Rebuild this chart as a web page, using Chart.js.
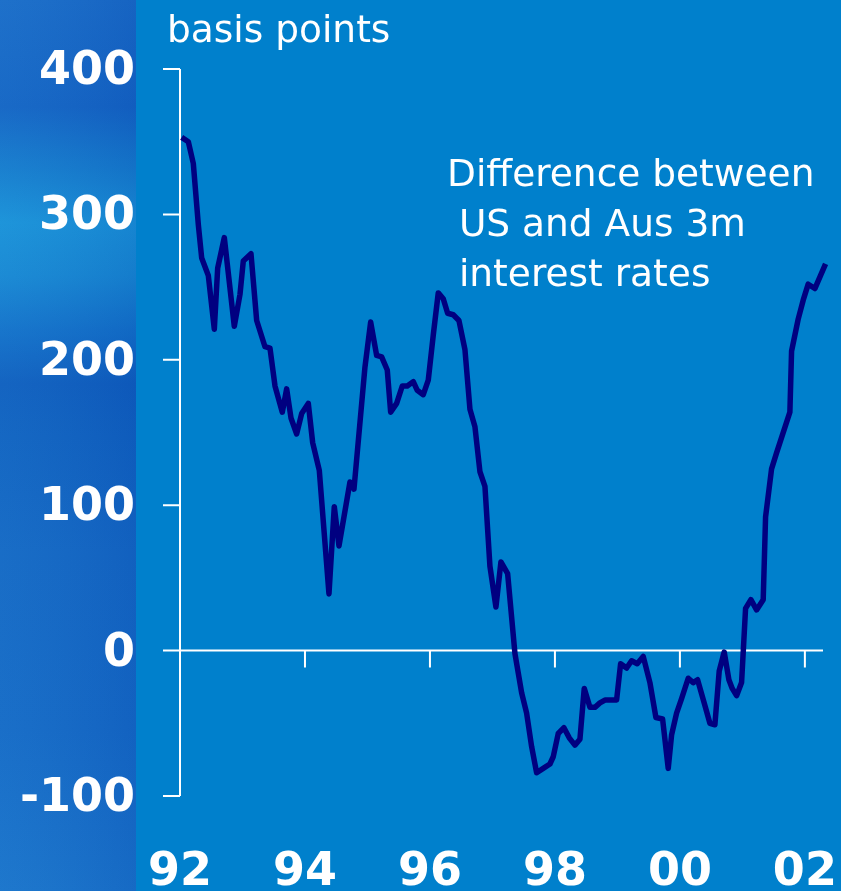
<!DOCTYPE html>
<html>
<head>
<meta charset="utf-8">
<script src="https://cdn.jsdelivr.net/npm/chart.js@4.4.1/dist/chart.umd.min.js"></script>
<style>
  html, body { margin: 0; padding: 0; background: #0080cc; overflow: hidden; }
  #wrap { width: 841px; height: 891px; position: relative; }
</style>
</head>
<body>
<div id="wrap"><canvas id="c" width="841" height="891"></canvas></div>
<script>
// ---- data (decimal years, basis points) ----
const dates = [
  1992.027, 1992.133, 1992.213, 1992.293, 1992.347, 1992.453, 1992.549, 1992.603, 1992.709, 1992.869,
  1992.960, 1993.013, 1993.136, 1993.227, 1993.360, 1993.440, 1993.520, 1993.637, 1993.707, 1993.776,
  1993.867, 1993.947, 1994.053, 1994.123, 1994.229, 1994.384, 1994.469, 1994.544, 1994.720, 1994.784,
  1994.960, 1995.051, 1995.147, 1995.227, 1995.317, 1995.371, 1995.467, 1995.557, 1995.637, 1995.733,
  1995.797, 1995.893, 1995.973, 1996.053, 1996.133, 1996.213, 1996.283, 1996.373, 1996.464, 1996.560,
  1996.640, 1996.720, 1996.800, 1996.880, 1996.960, 1997.056, 1997.136, 1997.243, 1997.360, 1997.467,
  1997.547, 1997.627, 1997.707, 1997.813, 1997.920, 1997.973, 1998.053, 1998.144, 1998.229, 1998.320,
  1998.400, 1998.469, 1998.560, 1998.640, 1998.720, 1998.800, 1998.880, 1998.987, 1999.051, 1999.147,
  1999.227, 1999.317, 1999.413, 1999.520, 1999.616, 1999.723, 1999.813, 1999.867, 1999.947, 2000.027,
  2000.133, 2000.213, 2000.283, 2000.389, 2000.480, 2000.560, 2000.629, 2000.709, 2000.784, 2000.837,
  2000.907, 2000.987, 2001.051, 2001.136, 2001.227, 2001.333, 2001.371, 2001.467, 2001.547, 2001.760,
  2001.787, 2001.893, 2001.973, 2002.053, 2002.160, 2002.331
];
const spreadBp = [
  353, 350, 335, 293, 270, 258, 221, 263, 284, 223,
  245, 268, 273, 227, 209, 208, 182, 164, 180, 160,
  149, 163, 170, 143, 124, 39, 99, 72, 116, 111,
  195, 226, 203, 202, 193, 164, 170, 182, 182, 185,
  179, 176, 186, 217, 246, 242, 232, 231, 227, 207,
  166, 154, 123, 113, 58, 30, 61, 53, -2, -29,
  -43, -66, -84, -81, -78, -73, -57, -53, -60, -65,
  -61, -26, -39, -39, -36, -34, -34, -34, -9, -12,
  -7, -9, -4, -22, -46, -47, -81, -58, -43, -33,
  -19, -22, -20, -36, -50, -51, -14, -1, -20, -26,
  -31, -22, 29, 35, 28, 35, 92, 125, 136, 164,
  206, 228, 241, 252, 249, 266
];
const yTicks = [-100, 0, 100, 200, 300, 400];
const xTickYears = [1992, 1994, 1996, 1998, 2000, 2002];
const xTickLabels = ['92', '94', '96', '98', '00', '02'];
const unitLabel = 'basis points';
const noteLines = ['Difference between', ' US and Aus 3m', ' interest rates'];

// ---- plugins ----
const backgroundPlugin = {
  id: 'backgroundPanel',
  beforeDraw(chart) {
    const ctx = chart.ctx;
    const H = chart.height;
    ctx.save();
    ctx.fillStyle = '#0080cc';
    ctx.fillRect(0, 0, chart.width, H);
    const g = ctx.createLinearGradient(0, 0, 0, H);
    g.addColorStop(0.00, '#1a6ac6');
    g.addColorStop(0.12, '#1462c2');
    g.addColorStop(0.19, '#167ccc');
    g.addColorStop(0.25, '#1a93d8');
    g.addColorStop(0.31, '#1888d2');
    g.addColorStop(0.37, '#1370c8');
    g.addColorStop(0.43, '#0f5cbc');
    g.addColorStop(0.49, '#1060be');
    g.addColorStop(0.62, '#1466c2');
    g.addColorStop(0.82, '#1568c4');
    g.addColorStop(1.00, '#1a72c9');
    ctx.fillStyle = g;
    ctx.fillRect(0, 0, 136, H);
    const h = ctx.createLinearGradient(0, 0, 136, 0);
    h.addColorStop(0, 'rgba(60,160,230,0.12)');
    h.addColorStop(1, 'rgba(5,70,175,0.18)');
    ctx.fillStyle = h;
    ctx.fillRect(0, 0, 136, H);
    ctx.restore();
  }
};

const axesPlugin = {
  id: 'customAxes',
  beforeDatasetsDraw(chart) {
    const ctx = chart.ctx;
    const x = chart.scales.x, y = chart.scales.y;
    const x0 = x.getPixelForValue(x.min);
    const xEnd = x.getPixelForValue(x.max);
    const yTop = y.getPixelForValue(y.max);
    const yBot = y.getPixelForValue(y.min);
    const yZero = y.getPixelForValue(0);
    const tick = 17;
    ctx.save();
    ctx.strokeStyle = '#ffffff';
    ctx.lineWidth = 2;
    ctx.beginPath();
    ctx.moveTo(x0, yTop); ctx.lineTo(x0, yBot);
    yTicks.forEach(v => {
      const p = y.getPixelForValue(v);
      ctx.moveTo(x0 - tick, p); ctx.lineTo(x0, p);
    });
    ctx.moveTo(x0 - tick, yZero); ctx.lineTo(xEnd, yZero);
    xTickYears.forEach(v => {
      const p = x.getPixelForValue(v);
      ctx.moveTo(p, yZero); ctx.lineTo(p, yZero + tick);
    });
    ctx.stroke();

    ctx.fillStyle = '#ffffff';
    ctx.font = '37.5px "DejaVu Sans"';
    ctx.textAlign = 'left';
    ctx.textBaseline = 'alphabetic';
    ctx.fillText(unitLabel, x0 - 13, 42);
    noteLines.forEach((t, i) => ctx.fillText(t, 447, 186 + i * 50));
    ctx.restore();
  }
};

const points = dates.map((d, i) => ({ x: d, y: spreadBp[i] }));

new Chart(document.getElementById('c'), {
  type: 'line',
  data: {
    datasets: [{
      data: points,
      borderColor: '#000080',
      borderWidth: 5.5,
      pointRadius: 0,
      tension: 0,
      fill: false,
      clip: false,
      borderJoinStyle: 'round',
      borderCapStyle: 'butt'
    }]
  },
  options: {
    responsive: false,
    animation: false,
    devicePixelRatio: 1,
    layout: { padding: { top: 69, right: 18, bottom: 0, left: 0 } },
    plugins: { legend: { display: false }, tooltip: { enabled: false }, title: { display: false } },
    scales: {
      x: {
        type: 'linear',
        min: 1992,
        max: 2002.29,
        grid: { display: false, drawTicks: false },
        border: { display: false },
        afterBuildTicks(scale) { scale.ticks = xTickYears.map(v => ({ value: v })); },
        afterFit(scale) { scale.height = 95; scale.paddingLeft = 0; scale.paddingRight = 0; },
        ticks: {
          autoSkip: false,
          maxRotation: 0,
          padding: 49,
          color: '#ffffff',
          font: { family: '"DejaVu Sans"', size: 46, weight: 'bold' },
          callback(v) { const i = xTickYears.indexOf(v); return i >= 0 ? xTickLabels[i] : ''; }
        }
      },
      y: {
        type: 'linear',
        min: -100,
        max: 400,
        grid: { display: false, drawTicks: false },
        border: { display: false },
        afterBuildTicks(scale) { scale.ticks = yTicks.map(v => ({ value: v })); },
        afterFit(scale) { scale.width = 180; scale.paddingTop = 0; scale.paddingBottom = 0; },
        ticks: {
          padding: 45,
          labelOffset: 3,
          color: '#ffffff',
          font: { family: '"DejaVu Sans"', size: 46, weight: 'bold' },
          callback(v) { return String(v); }
        }
      }
    }
  },
  plugins: [backgroundPlugin, axesPlugin]
});
</script>
</body>
</html>
